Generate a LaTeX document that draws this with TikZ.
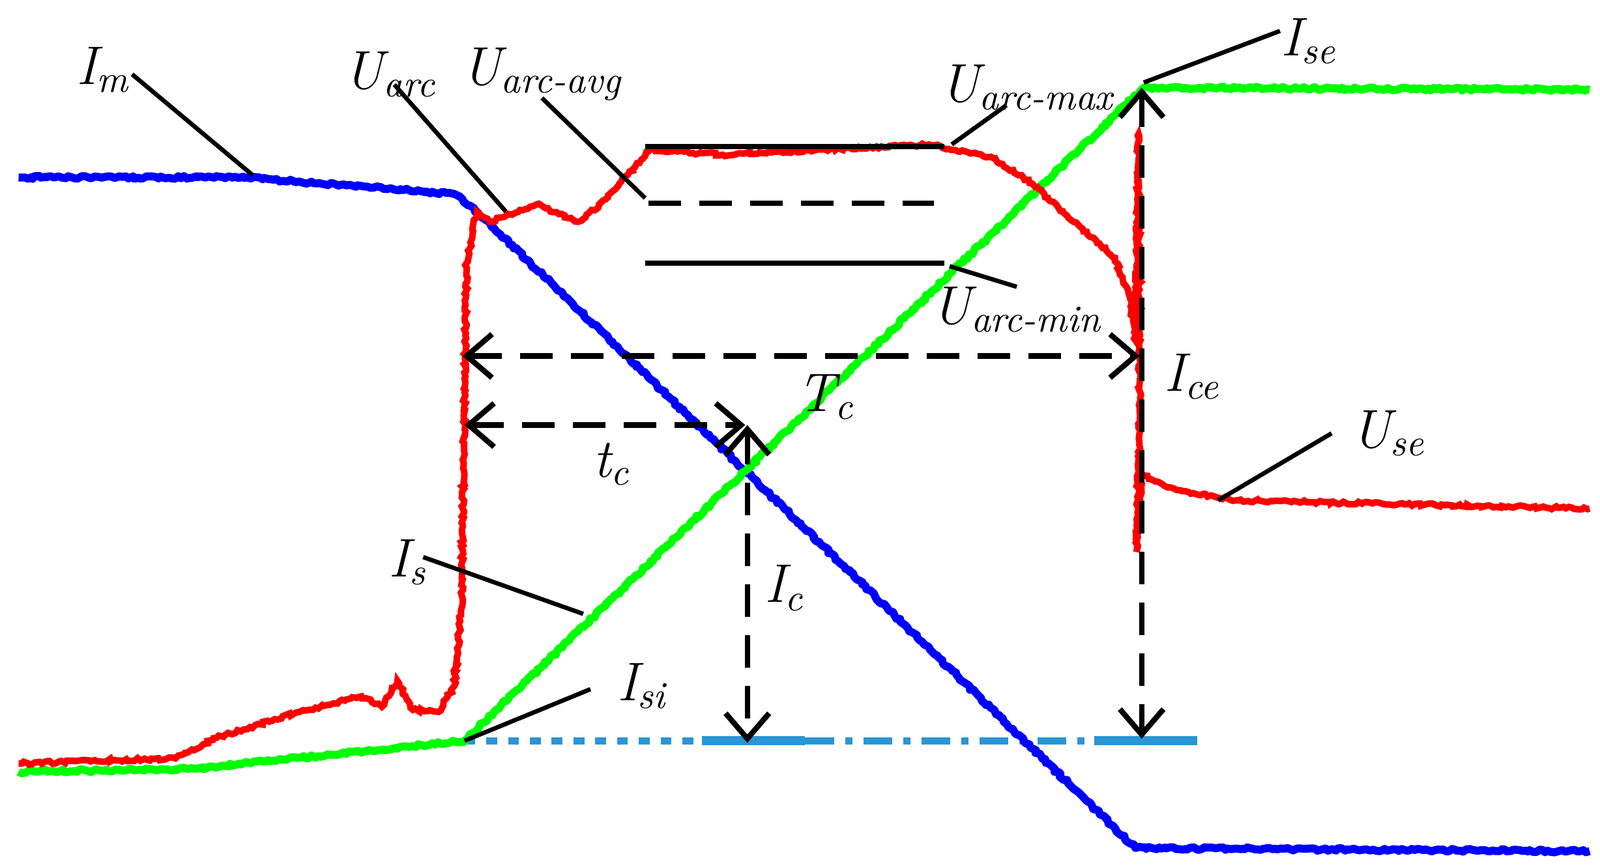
\documentclass[tikz,border=0pt]{standalone}
\usetikzlibrary{decorations.pathmorphing,arrows.meta}
\begin{document}
\begin{tikzpicture}[x=0.01cm,y=-0.01cm,
  trace/.style={line width=2.2pt,line join=round},
  noisy/.style={decorate,decoration={random steps,segment length=0.8pt,amplitude=0.4pt}},
  lead/.style={line width=1.2pt},
  dim/.style={line width=1.5pt,dash pattern=on 9pt off 5pt,{Straight Barb[length=7pt,width=12pt]}-{Straight Barb[length=7pt,width=12pt]}},
  lab/.style={font=\fontsize{15}{15}\selectfont\itshape,inner sep=0pt}]
\useasboundingbox (0,0) rectangle (1550,840);
\definecolor{lb}{RGB}{40,150,215}
% light blue baseline
\draw[lb,line width=2pt,dash pattern=on 3pt off 3pt] (450,718) -- (680,718);
\draw[lb,line width=2.5pt] (680,718) -- (780,718);
\draw[lb,line width=2pt,dash pattern=on 8pt off 3pt on 2pt off 3pt] (780,718) -- (1060,718);
\draw[lb,line width=2.5pt] (1060,718) -- (1160,718);
% blue
\draw[trace,blue,noisy] (18,172) -- (240,172) -- (440,188) -- (462,205) -- (1100,822) -- (1540,825);
% green
\draw[trace,green,noisy] (18,748) -- (190,745) -- (450,718) -- (1108,85) -- (1540,87);
% red
\draw[red,line width=1.8pt,noisy] (18,740) -- (170,735) -- (210,715) -- (290,690) -- (350,675) -- (370,685) -- (385,660) -- (400,688) -- (425,690) -- (440,665) -- (447,590) -- (452,255) -- (462,205) -- (475,215) -- (520,198) -- (560,215) -- (580,200) -- (600,178) -- (630,145) -- (700,150) -- (900,140) -- (960,152) -- (1000,178) -- (1040,215) -- (1080,250) -- (1095,290) -- (1100,330) -- (1103,130) -- (1104,400) -- (1101,535) -- (1106,460) -- (1140,475) -- (1200,485) -- (1540,493);
% horizontal reference lines
\draw[lead,line width=1.5pt] (625,142) -- (915,142);
\draw[lead,line width=1.5pt,dash pattern=on 9pt off 5pt] (628,197) -- (905,197);
\draw[lead,line width=1.5pt] (625,255) -- (915,255);
% labels
\node[lab] (im) at (100,68) {I\textsubscript{m}};
\node[lab] (uarc) at (378,72) {U\textsubscript{arc}};
\node[lab] (uavg) at (525,72) {U\textsubscript{arc-avg}};
\node[lab] (umax) at (995,85) {U\textsubscript{arc-max}};
\node[lab] (umin) at (985,300) {U\textsubscript{arc-min}};
\node[lab] (ise) at (1268,40) {I\textsubscript{se}};
\node[lab] (ice) at (1155,365) {I\textsubscript{ce}};
\node[lab] (use) at (1345,420) {U\textsubscript{se}};
\node[lab] (tcc) at (800,385) {T\textsubscript{c}};
\node[lab] (tcs) at (593,450) {t\textsubscript{c}};
\node[lab] (ic) at (760,570) {I\textsubscript{c}};
\node[lab] (is) at (395,545) {I\textsubscript{s}};
\node[lab] (isi) at (622,665) {I\textsubscript{si}};
% leaders
\coordinate (a1) at (245,170); \draw[lead] (128,72) -- (a1);
\coordinate (a2) at (490,205); \draw[lead] (382,82) -- (a2);
\coordinate (a3) at (625,192); \draw[lead] (525,95) -- (a3);
\coordinate (a4) at (922,140); \draw[lead] (975,102) -- (a4);
\coordinate (a5) at (920,258); \draw[lead] (985,278) -- (a5);
\coordinate (a6) at (1108,80); \draw[lead] (1240,30) -- (a6);
\coordinate (a7) at (1180,485); \draw[lead] (1290,420) -- (a7);
\coordinate (a8) at (565,595); \draw[lead] (410,540) -- (a8);
\coordinate (a9) at (450,718); \draw[lead] (572,668) -- (a9);
% dimension arrows
\coordinate (t1) at (448,345); \coordinate (t2) at (1104,345);
\draw[dim] (t1) -- (t2);
\coordinate (s1) at (450,412); \coordinate (s2) at (722,412);
\draw[dim] (s1) -- (s2);
\coordinate (c1) at (724,412); \coordinate (c2) at (724,720);
\draw[dim] (c1) -- (c2);
\coordinate (e1) at (1106,85); \coordinate (e2) at (1106,716);
\draw[dim] (e1) -- (e2);
\end{tikzpicture}
\end{document}
